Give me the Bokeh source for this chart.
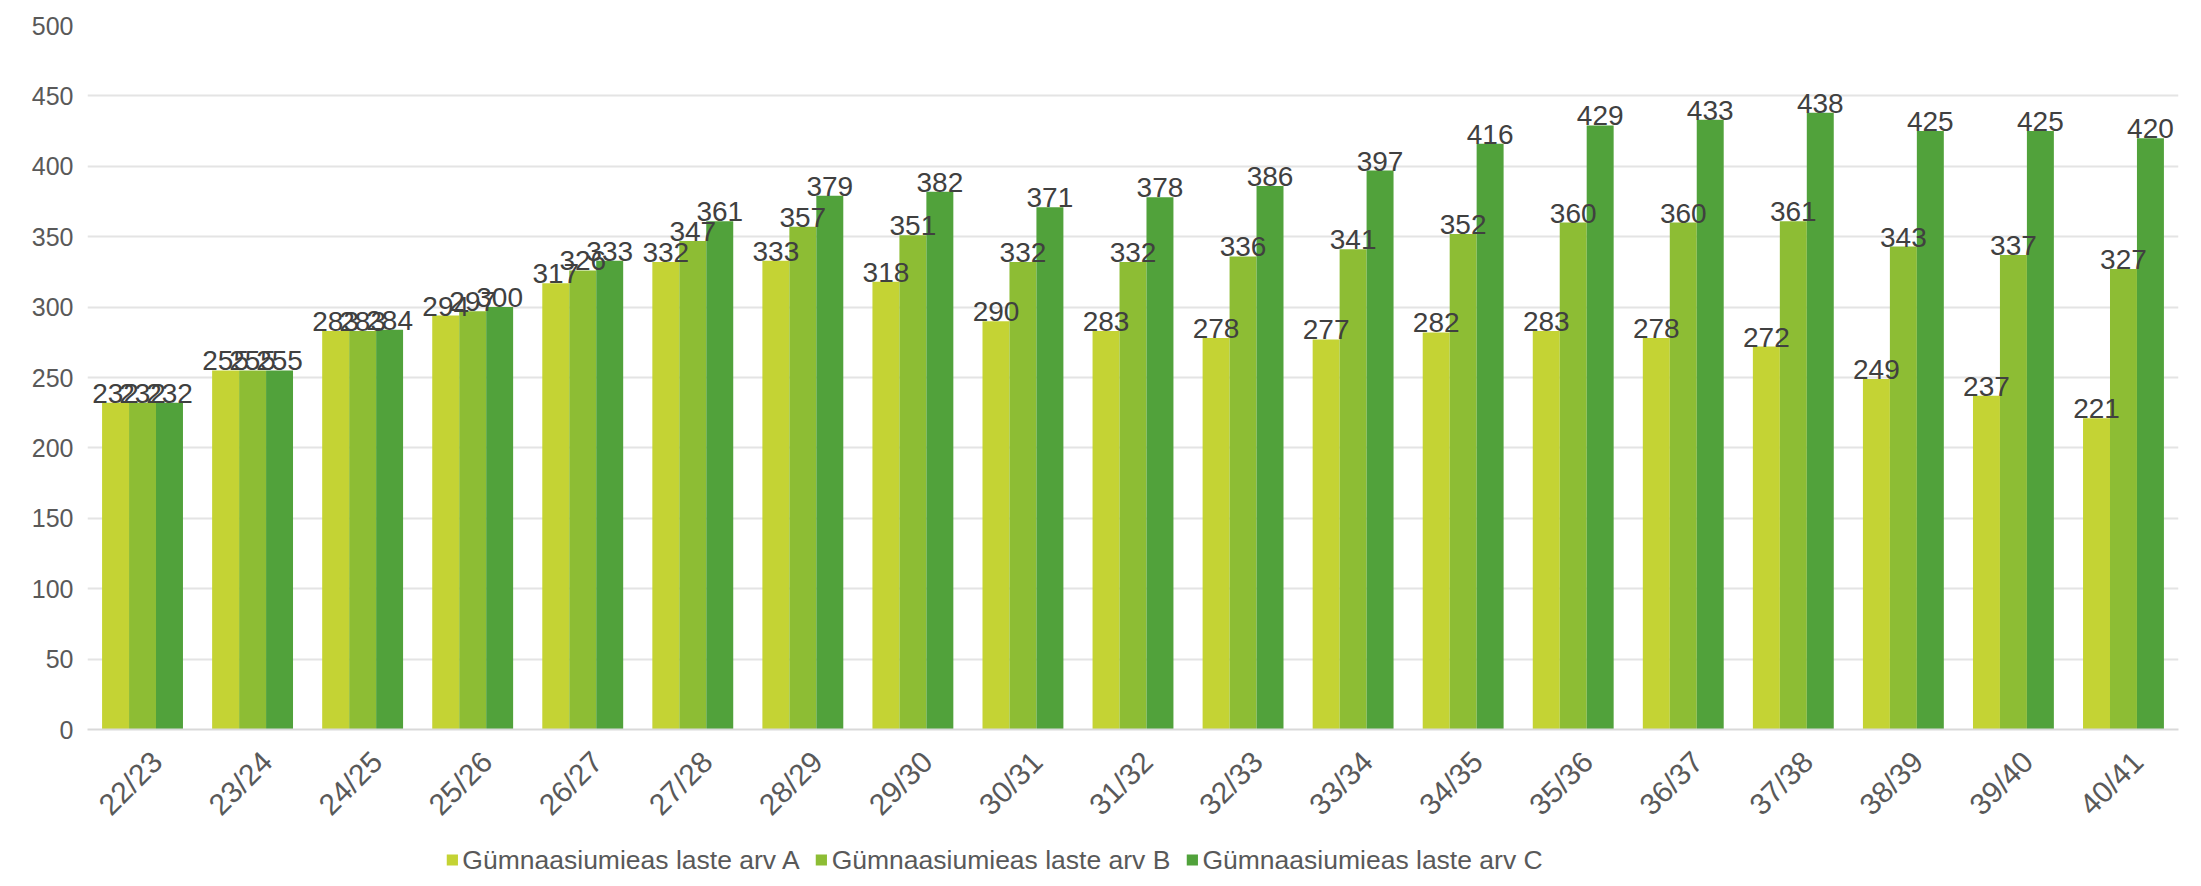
import math
from bokeh.plotting import figure
from bokeh.layouts import column
from bokeh.models import (ColumnDataSource, Range1d, LabelSet, Legend, LegendItem,
                          LinearAxis, FixedTicker)
from bokeh.core.properties import value
from bokeh.transform import dodge
from bokeh.embed import file_html
from bokeh.resources import INLINE

categories = ["22/23", "23/24", "24/25", "25/26", "26/27", "27/28", "28/29", "29/30", "30/31",
              "31/32", "32/33", "33/34", "34/35", "35/36", "36/37", "37/38", "38/39", "39/40", "40/41"]
series_a = [232, 255, 283, 294, 317, 332, 333, 318, 290, 283, 278, 277, 282, 283, 278, 272, 249, 237, 221]
series_b = [232, 255, 283, 297, 326, 347, 357, 351, 332, 332, 336, 341, 352, 360, 360, 361, 343, 337, 327]
series_c = [232, 255, 284, 300, 333, 361, 379, 382, 371, 378, 386, 397, 416, 429, 433, 438, 425, 425, 420]
series_names = ["Gümnaasiumieas laste arv A", "Gümnaasiumieas laste arv B", "Gümnaasiumieas laste arv C"]
y_ticks = [0, 50, 100, 150, 200, 250, 300, 350, 400, 450, 500]

colors = ["#c4d334", "#8dbd34", "#51a23b"]
FONT = "Liberation Sans"
W = 2193
n = len(categories)
idx = list(range(n))

source = ColumnDataSource(data=dict(idx=idx, cat=categories, A=series_a, B=series_b, C=series_c,
                                    At=[str(v) for v in series_a],
                                    Bt=[str(v) for v in series_b],
                                    Ct=[str(v) for v in series_c]))

p = figure(x_range=Range1d(-0.5, n - 0.5), y_range=Range1d(0, 500),
           width=W, height=839,
           min_border_left=87, min_border_right=15, min_border_top=25, min_border_bottom=110,
           output_backend="svg", toolbar_location=None)

bw = 0.245
offsets = [-bw, 0, bw]
keys = ["A", "B", "C"]
for k, off, col in zip(keys, offsets, colors):
    p.vbar(x=dodge("idx", off), top=k, width=bw, source=source,
           fill_color=col, line_color=None)

for k, off in zip(keys, offsets):
    labels = LabelSet(x=dodge("idx", off), y=k, text=k + "t", source=source,
                      text_align="center", text_baseline="bottom", y_offset=0,
                      text_font=value(FONT), text_font_size="28px", text_color="#404040")
    p.add_layout(labels)

p.yaxis.ticker = y_ticks
p.yaxis.axis_line_color = None
p.yaxis.major_tick_line_color = None
p.yaxis.minor_tick_line_color = None
p.yaxis.major_label_text_font = FONT
p.yaxis.major_label_text_font_size = "25px"
p.yaxis.major_label_text_color = "#595959"
p.yaxis.major_label_standoff = 8

# category axis: labels sit slightly to the right of the bar groups, as in the source chart
p.xaxis.visible = False
shift = 0.13
p.extra_x_ranges = {"lab": Range1d(-0.5 - shift, n - 0.5 - shift)}
lab_axis = LinearAxis(x_range_name="lab", ticker=FixedTicker(ticks=idx),
                      major_label_overrides={i: c for i, c in zip(idx, categories)})
lab_axis.axis_line_color = "#d9d9d9"
lab_axis.axis_line_width = 2
lab_axis.major_tick_line_color = None
lab_axis.minor_tick_line_color = None
lab_axis.major_label_orientation = math.pi / 4
lab_axis.major_label_text_font = FONT
lab_axis.major_label_text_font_size = "30px"
lab_axis.major_label_text_color = "#595959"
lab_axis.major_label_standoff = 21
p.add_layout(lab_axis, "below")

p.xgrid.grid_line_color = None
p.ygrid.grid_line_color = "#e4e4e4"
p.ygrid.grid_line_width = 2
p.outline_line_color = None

# legend strip below the chart (centred where the source chart's legend sits)
lg = figure(width=1915, height=41, x_range=Range1d(0, 1), y_range=Range1d(0, 1),
            x_axis_type=None, y_axis_type=None, min_border=0,
            output_backend="svg", toolbar_location=None)
lg.outline_line_color = None
lg.xgrid.visible = False
lg.ygrid.visible = False
proxy = ColumnDataSource(data=dict(x=[float("nan")], top=[float("nan")]))
items = []
for col, name in zip(colors, series_names):
    r = lg.vbar(x="x", top="top", width=0.1, source=proxy, fill_color=col, line_color=None)
    items.append(LegendItem(label=name, renderers=[r]))
legend = Legend(items=items, orientation="horizontal", location="center",
                label_text_font=FONT, label_text_font_size="26.5px", label_text_color="#595959",
                glyph_width=14, glyph_height=14, label_standoff=4, spacing=14,
                padding=0, margin=0, border_line_color=None, background_fill_alpha=0)
lg.add_layout(legend, "center")

layout = column(p, lg, spacing=0)
open("out.html", "w").write(file_html(layout, INLINE))
